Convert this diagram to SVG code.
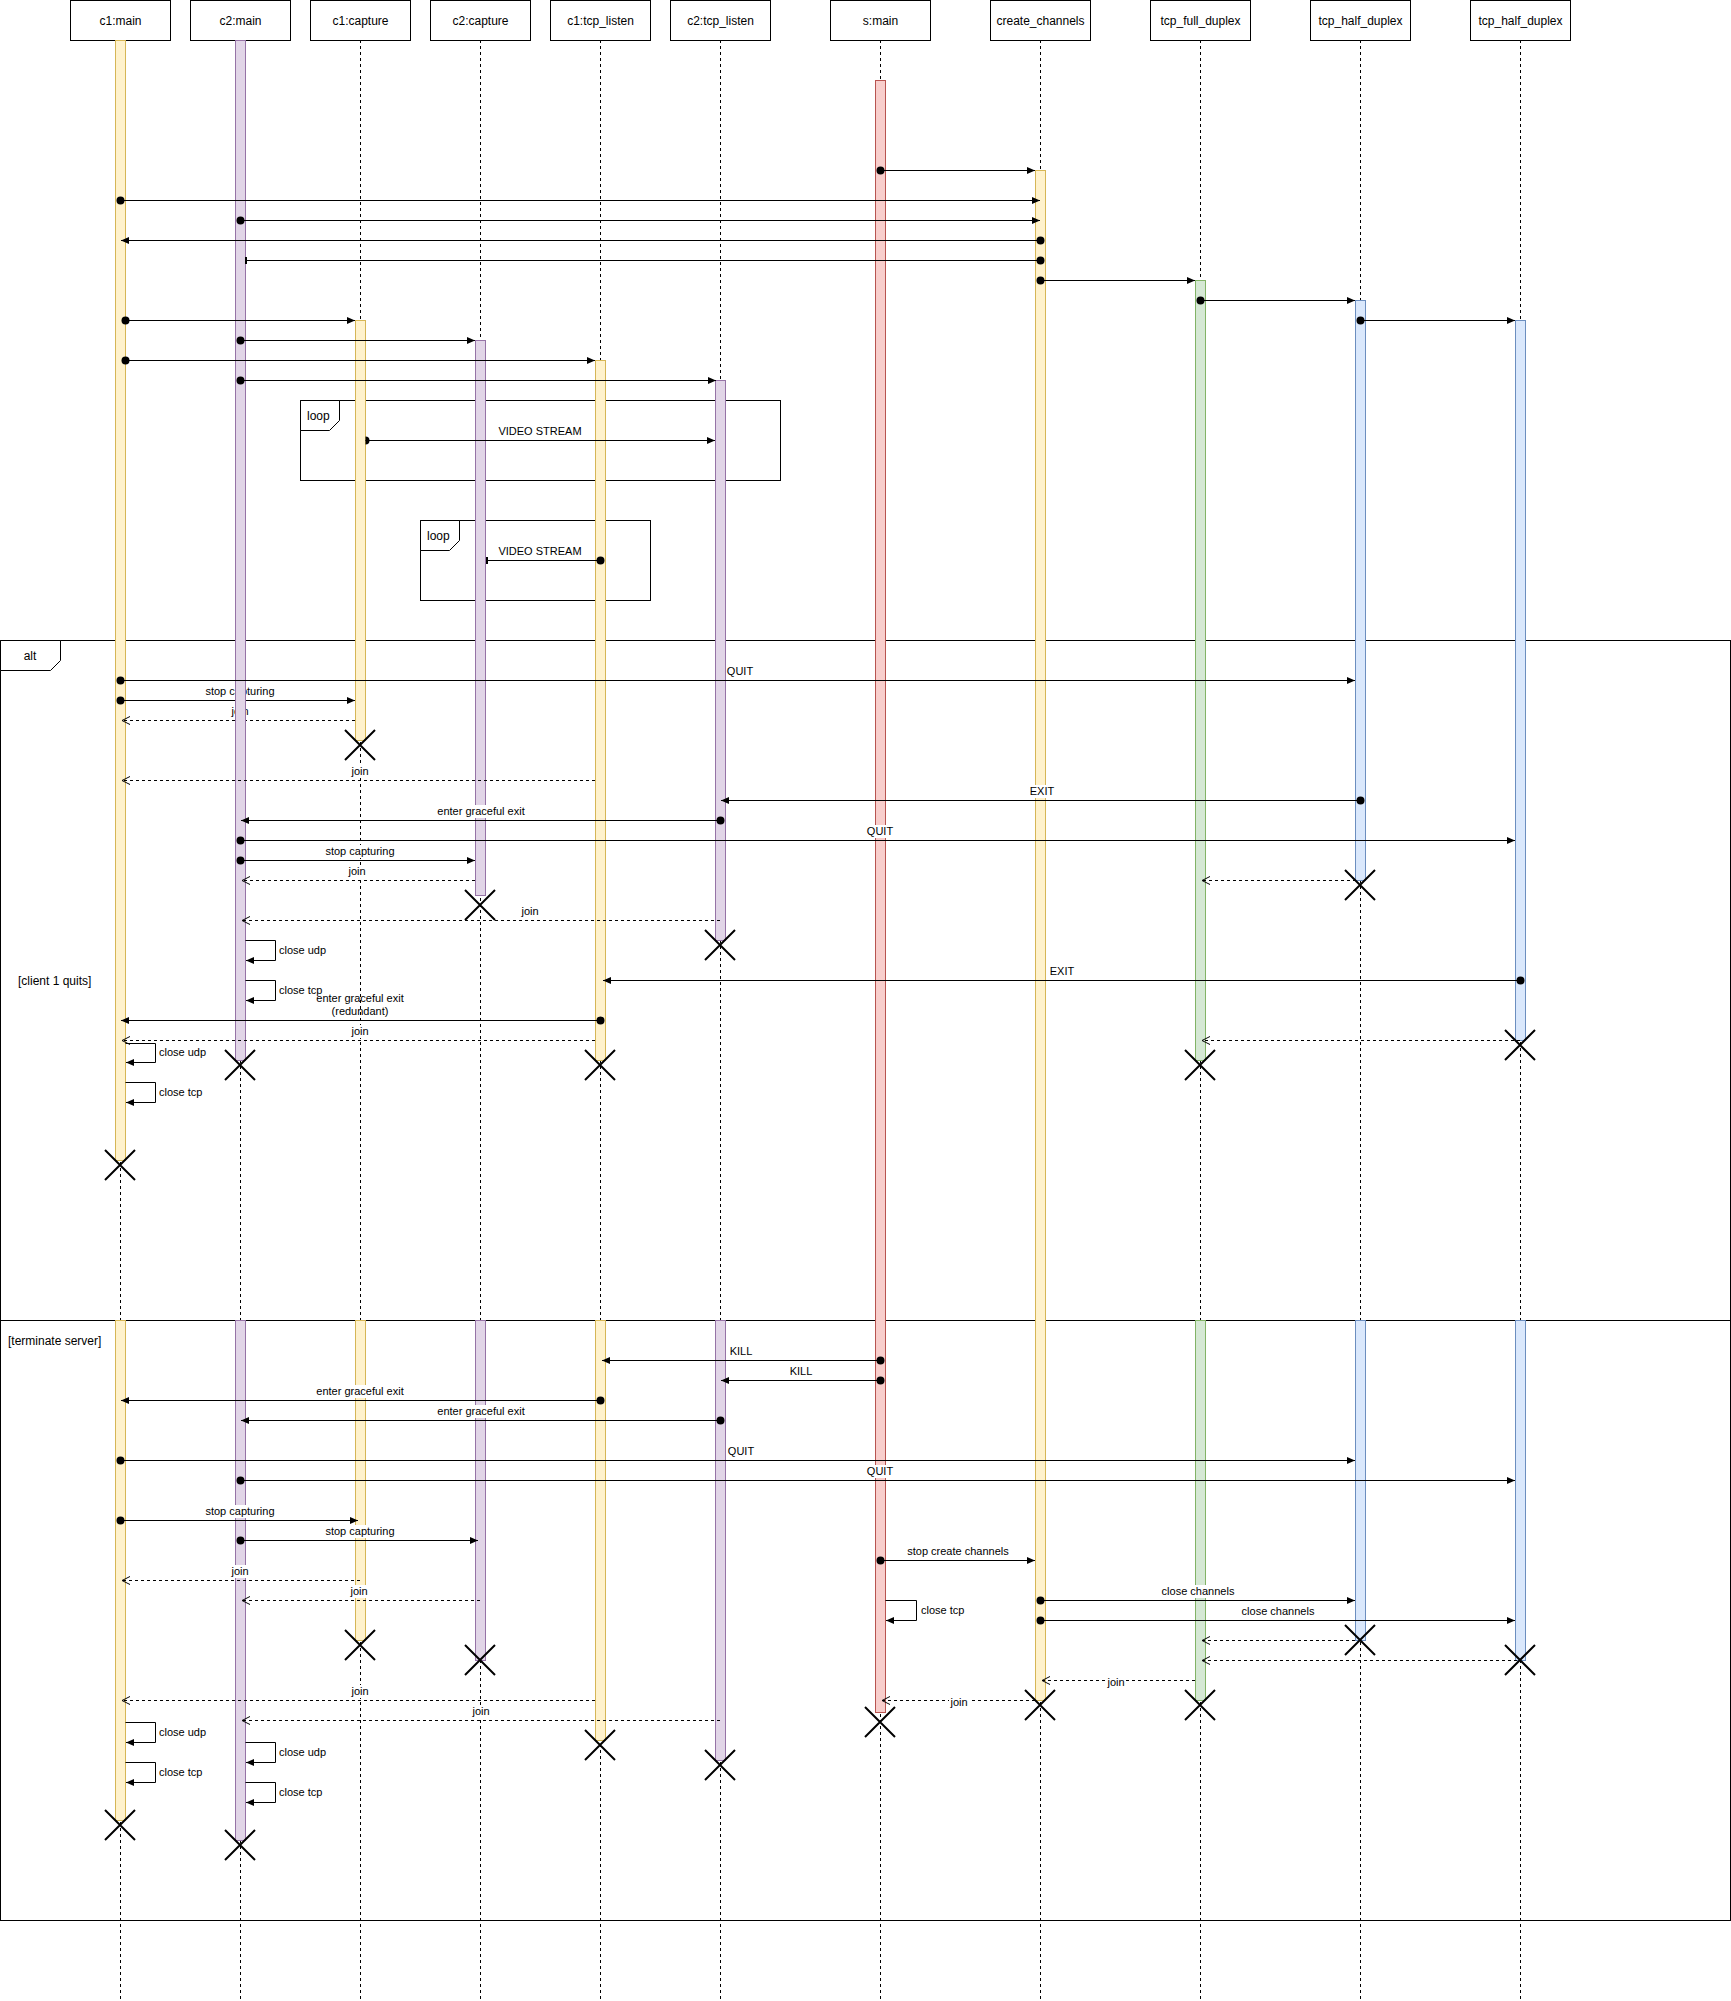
<svg xmlns="http://www.w3.org/2000/svg" width="1731" height="2001" viewBox="0 0 1731 2001">
<style>
  .hd { fill:#fff; stroke:#000; stroke-width:1; }
  .ht { font-family:"Liberation Sans", Arial, Helvetica, sans-serif; font-size:12px; text-anchor:middle; fill:#000; }
  .ll { stroke:#000; stroke-width:1; stroke-dasharray:3 3; fill:none; }
  .y { fill:#fff2cc; stroke:#d6b656; }
  .p { fill:#e1d5e7; stroke:#9673a6; }
  .r { fill:#f8cecc; stroke:#b85450; }
  .g { fill:#d5e8d4; stroke:#82b366; }
  .b { fill:#dae8fc; stroke:#6c8ebf; }
  .x { stroke:#000; stroke-width:2; fill:none; }
  .m { stroke:#000; stroke-width:1; fill:none; }
  .ms { marker-start:url(#dot); }
  .me { marker-end:url(#arr); }
  .mt { marker-end:url(#tick); }
  .rt { stroke-dasharray:3 3; marker-end:url(#open); }
  .lbl { font-family:"Liberation Sans", Arial, Helvetica, sans-serif; font-size:11px; text-anchor:middle; fill:#000; }
  .lft { text-anchor:start; }
  .lb { fill:#fff; stroke:none; }
  .fr { fill:none; stroke:#000; stroke-width:1; }
  .tab { fill:#fff; stroke:#000; stroke-width:1; }
  .ft { font-family:"Liberation Sans", Arial, Helvetica, sans-serif; font-size:12px; fill:#000; }
</style>
<defs>
  <marker id="dot" markerUnits="userSpaceOnUse" markerWidth="10" markerHeight="10" refX="5" refY="5" overflow="visible"><circle cx="5" cy="5" r="4" fill="#000"/></marker>
  <marker id="arr" markerUnits="userSpaceOnUse" markerWidth="8" markerHeight="8" refX="8" refY="4" orient="auto" overflow="visible"><path d="M0,0.5 L8,4 L0,7.5 Z" fill="#000"/></marker>
  <marker id="open" markerUnits="userSpaceOnUse" markerWidth="9" markerHeight="9" refX="8" refY="4.5" orient="auto" overflow="visible"><path d="M0,0.5 L8,4.5 L0,8.5" fill="none" stroke="#000" stroke-width="1" stroke-dasharray="none"/></marker>
  <marker id="tick" markerUnits="userSpaceOnUse" markerWidth="4" markerHeight="8" refX="2" refY="4" orient="auto" overflow="visible"><path d="M2,0.5V7.5" stroke="#000" stroke-width="2"/></marker>
</defs>
<rect width="1731" height="2001" fill="#fff"/>

<!-- combined fragments -->
<g id="frames">
  <g id="alt">
    <rect class="fr" x="0.5" y="640.5" width="1730" height="1280"/>
    <path class="tab" d="M0.5,640.5H60.5V660.5L50.5,670.5H0.5Z"/>
    <text class="ft" x="30" y="660" text-anchor="middle">alt</text>
    <text class="ft" x="18" y="985">[client 1 quits]</text>
    <path class="fr" d="M0.5,1320.5H1730.5"/>
    <text class="ft" x="8" y="1345">[terminate server]</text>
  </g>
  <g id="loop1">
    <rect class="fr" x="300.5" y="400.5" width="480" height="80"/>
    <path class="tab" d="M300.5,400.5H339.5V420.5L329.5,430.5H300.5Z"/>
    <text class="ft" x="307" y="420">loop</text>
  </g>
  <g id="loop2">
    <rect class="fr" x="420.5" y="520.5" width="230" height="80"/>
    <path class="tab" d="M420.5,520.5H459.5V540.5L449.5,550.5H420.5Z"/>
    <text class="ft" x="427" y="540">loop</text>
  </g>
</g>

<!-- participants: header, lifeline, activations, destruction -->
<g id="c1-main">
  <path class="ll" d="M120.5,40V2001"/>
  <rect class="hd" x="70.5" y="0.5" width="100" height="40"/>
  <text class="ht" x="120.5" y="25">c1:main</text>
  <rect class="y" x="115.5" y="40.5" width="10" height="1120"/>
  <rect class="y" x="115.5" y="1320.5" width="10" height="500"/>
  <path class="x" d="M105,1150L135,1180M135,1150L105,1180"/>
  <path class="x" d="M105,1810L135,1840M135,1810L105,1840"/>
</g>
<g id="c2-main">
  <path class="ll" d="M240.5,40V2001"/>
  <rect class="hd" x="190.5" y="0.5" width="100" height="40"/>
  <text class="ht" x="240.5" y="25">c2:main</text>
  <rect class="p" x="235.5" y="40.5" width="10" height="1020"/>
  <rect class="p" x="235.5" y="1320.5" width="10" height="520"/>
  <path class="x" d="M225,1050L255,1080M255,1050L225,1080"/>
  <path class="x" d="M225,1830L255,1860M255,1830L225,1860"/>
</g>
<g id="c1-capture">
  <path class="ll" d="M360.5,40V2001"/>
  <rect class="hd" x="310.5" y="0.5" width="100" height="40"/>
  <text class="ht" x="360.5" y="25">c1:capture</text>
  <rect class="y" x="355.5" y="320.5" width="10" height="420"/>
  <rect class="y" x="355.5" y="1320.5" width="10" height="320"/>
  <path class="x" d="M345,730L375,760M375,730L345,760"/>
  <path class="x" d="M345,1630L375,1660M375,1630L345,1660"/>
</g>
<g id="c2-capture">
  <path class="ll" d="M480.5,40V2001"/>
  <rect class="hd" x="430.5" y="0.5" width="100" height="40"/>
  <text class="ht" x="480.5" y="25">c2:capture</text>
  <rect class="p" x="475.5" y="340.5" width="10" height="555"/>
  <rect class="p" x="475.5" y="1320.5" width="10" height="340"/>
  <path class="x" d="M465,890L495,920M495,890L465,920"/>
  <path class="x" d="M465,1645L495,1675M495,1645L465,1675"/>
</g>
<g id="c1-tcp-listen">
  <path class="ll" d="M600.5,40V2001"/>
  <rect class="hd" x="550.5" y="0.5" width="100" height="40"/>
  <text class="ht" x="600.5" y="25">c1:tcp_listen</text>
  <rect class="y" x="595.5" y="360.5" width="10" height="700"/>
  <rect class="y" x="595.5" y="1320.5" width="10" height="420"/>
  <path class="x" d="M585,1050L615,1080M615,1050L585,1080"/>
  <path class="x" d="M585,1730L615,1760M615,1730L585,1760"/>
</g>
<g id="c2-tcp-listen">
  <path class="ll" d="M720.5,40V2001"/>
  <rect class="hd" x="670.5" y="0.5" width="100" height="40"/>
  <text class="ht" x="720.5" y="25">c2:tcp_listen</text>
  <rect class="p" x="715.5" y="380.5" width="10" height="560"/>
  <rect class="p" x="715.5" y="1320.5" width="10" height="440"/>
  <path class="x" d="M705,930L735,960M735,930L705,960"/>
  <path class="x" d="M705,1750L735,1780M735,1750L705,1780"/>
</g>
<g id="s-main">
  <path class="ll" d="M880.5,40V2001"/>
  <rect class="hd" x="830.5" y="0.5" width="100" height="40"/>
  <text class="ht" x="880.5" y="25">s:main</text>
  <rect class="r" x="875.5" y="80.5" width="10" height="1632"/>
  <path class="x" d="M865,1707L895,1737M895,1707L865,1737"/>
</g>
<g id="create-channels">
  <path class="ll" d="M1040.5,40V2001"/>
  <rect class="hd" x="990.5" y="0.5" width="100" height="40"/>
  <text class="ht" x="1040.5" y="25">create_channels</text>
  <rect class="y" x="1035.5" y="170.5" width="10" height="1530"/>
  <path class="x" d="M1025,1690L1055,1720M1055,1690L1025,1720"/>
</g>
<g id="tcp-full-duplex">
  <path class="ll" d="M1200.5,40V2001"/>
  <rect class="hd" x="1150.5" y="0.5" width="100" height="40"/>
  <text class="ht" x="1200.5" y="25">tcp_full_duplex</text>
  <rect class="g" x="1195.5" y="280.5" width="10" height="780"/>
  <rect class="g" x="1195.5" y="1320.5" width="10" height="380"/>
  <path class="x" d="M1185,1050L1215,1080M1215,1050L1185,1080"/>
  <path class="x" d="M1185,1690L1215,1720M1215,1690L1185,1720"/>
</g>
<g id="tcp-half-duplex-1">
  <path class="ll" d="M1360.5,40V2001"/>
  <rect class="hd" x="1310.5" y="0.5" width="100" height="40"/>
  <text class="ht" x="1360.5" y="25">tcp_half_duplex</text>
  <rect class="b" x="1355.5" y="300.5" width="10" height="580"/>
  <rect class="b" x="1355.5" y="1320.5" width="10" height="320"/>
  <path class="x" d="M1345,870L1375,900M1375,870L1345,900"/>
  <path class="x" d="M1345,1625L1375,1655M1375,1625L1345,1655"/>
</g>
<g id="tcp-half-duplex-2">
  <path class="ll" d="M1520.5,40V2001"/>
  <rect class="hd" x="1470.5" y="0.5" width="100" height="40"/>
  <text class="ht" x="1520.5" y="25">tcp_half_duplex</text>
  <rect class="b" x="1515.5" y="320.5" width="10" height="720"/>
  <rect class="b" x="1515.5" y="1320.5" width="10" height="340"/>
  <path class="x" d="M1505,1030L1535,1060M1535,1030L1505,1060"/>
  <path class="x" d="M1505,1645L1535,1675M1535,1645L1505,1675"/>
</g>

<!-- messages -->
<g id="connectors">
  <!-- start-up -->
  <path class="m ms me" d="M880.5,170.5H1035"/>
  <path class="m ms me" d="M120.5,200.5H1040"/>
  <path class="m ms me" d="M240.5,220.5H1040"/>
  <path class="m ms me" d="M1040.5,240.5H121"/>
  <path class="m ms mt" d="M1040.5,260.5H246"/>
  <path class="m ms me" d="M1040.5,280.5H1195"/>
  <path class="m ms me" d="M1200.5,300.5H1355"/>
  <path class="m ms me" d="M1360.5,320.5H1515"/>
  <path class="m ms me" d="M125.5,320.5H355"/>
  <path class="m ms me" d="M240.5,340.5H475"/>
  <path class="m ms me" d="M125.5,360.5H595"/>
  <path class="m ms me" d="M240.5,380.5H716"/>

  <!-- loops -->
  <path class="m me" d="M365.5,440.5H715"/>
  <path d="M365.5,436.5A4,4 0 0 1 365.5,444.5Z" fill="#000"/>
  <text class="lbl" x="540" y="435">VIDEO STREAM</text>
  <path class="m ms mt" d="M600.5,560.5H487"/>
  <text class="lbl" x="540" y="555">VIDEO STREAM</text>

  <!-- client 1 quits -->
  <path class="m ms me" d="M120.5,680.5H1355"/>
  <rect class="lb" x="726" y="665" width="28" height="13"/>
  <text class="lbl" x="740" y="675">QUIT</text>

  <path class="m ms me" d="M120.5,700.5H355"/>
  <rect class="lb" x="204" y="685" width="72" height="13"/>
  <text class="lbl" x="240" y="695">stop capturing</text>

  <path class="m rt" d="M355,720.5H122"/>
  <rect class="lb" x="230" y="705" width="20" height="13"/>
  <text class="lbl" x="240" y="715">join</text>

  <path class="m rt" d="M595,780.5H122"/>
  <rect class="lb" x="350" y="765" width="20" height="13"/>
  <text class="lbl" x="360" y="775">join</text>

  <path class="m ms me" d="M1360.5,800.5H721"/>
  <rect class="lb" x="1029" y="785" width="26" height="13"/>
  <text class="lbl" x="1042" y="795">EXIT</text>

  <path class="m ms me" d="M720.5,820.5H241"/>
  <rect class="lb" x="433" y="805" width="96" height="13"/>
  <text class="lbl" x="481" y="815">enter graceful exit</text>

  <path class="m ms me" d="M240.5,840.5H1515"/>
  <rect class="lb" x="866" y="825" width="28" height="13"/>
  <text class="lbl" x="880" y="835">QUIT</text>

  <path class="m ms me" d="M240.5,860.5H475"/>
  <rect class="lb" x="324" y="845" width="72" height="13"/>
  <text class="lbl" x="360" y="855">stop capturing</text>

  <path class="m rt" d="M475,880.5H242"/>
  <rect class="lb" x="347" y="865" width="20" height="13"/>
  <text class="lbl" x="357" y="875">join</text>

  <path class="m rt" d="M1356,880.5H1202"/>

  <path class="m rt" d="M720,920.5H242"/>
  <rect class="lb" x="520" y="905" width="20" height="13"/>
  <text class="lbl" x="530" y="915">join</text>

  <path class="m me" d="M245.5,940.5H275.5V960.5H246"/>
  <text class="lbl lft" x="279" y="954">close udp</text>
  <path class="m me" d="M245.5,980.5H275.5V1000.5H246"/>
  <text class="lbl lft" x="279" y="994">close tcp</text>

  <path class="m ms me" d="M1520.5,980.5H603"/>
  <rect class="lb" x="1049" y="965" width="26" height="13"/>
  <text class="lbl" x="1062" y="975">EXIT</text>

  <path class="m ms me" d="M600.5,1020.5H121"/>
  <text class="lbl" x="360" y="1002">enter graceful exit</text>
  <text class="lbl" x="360" y="1015">(redundant)</text>

  <path class="m rt" d="M595,1040.5H122"/>
  <rect class="lb" x="350" y="1025" width="20" height="13"/>
  <text class="lbl" x="360" y="1035">join</text>

  <path class="m rt" d="M1520,1040.5H1202"/>

  <path class="m me" d="M125.5,1043.5H155.5V1062.5H126"/>
  <text class="lbl lft" x="159" y="1056">close udp</text>
  <path class="m me" d="M125.5,1082.5H155.5V1102.5H126"/>
  <text class="lbl lft" x="159" y="1096">close tcp</text>

  <!-- terminate server -->
  <path class="m ms me" d="M880.5,1360.5H602"/>
  <rect class="lb" x="729" y="1345" width="25" height="13"/>
  <text class="lbl" x="741" y="1355">KILL</text>

  <path class="m ms me" d="M880.5,1380.5H721"/>
  <rect class="lb" x="789" y="1365" width="25" height="13"/>
  <text class="lbl" x="801" y="1375">KILL</text>

  <path class="m ms me" d="M600.5,1400.5H121"/>
  <rect class="lb" x="312" y="1385" width="96" height="13"/>
  <text class="lbl" x="360" y="1395">enter graceful exit</text>

  <path class="m ms me" d="M720.5,1420.5H241"/>
  <rect class="lb" x="433" y="1405" width="96" height="13"/>
  <text class="lbl" x="481" y="1415">enter graceful exit</text>

  <path class="m ms me" d="M120.5,1460.5H1355"/>
  <rect class="lb" x="727" y="1445" width="28" height="13"/>
  <text class="lbl" x="741" y="1455">QUIT</text>

  <path class="m ms me" d="M240.5,1480.5H1515"/>
  <rect class="lb" x="866" y="1465" width="28" height="13"/>
  <text class="lbl" x="880" y="1475">QUIT</text>

  <path class="m ms me" d="M120.5,1520.5H358"/>
  <rect class="lb" x="204" y="1505" width="72" height="13"/>
  <text class="lbl" x="240" y="1515">stop capturing</text>

  <path class="m ms me" d="M240.5,1540.5H478"/>
  <rect class="lb" x="324" y="1525" width="72" height="13"/>
  <text class="lbl" x="360" y="1535">stop capturing</text>

  <path class="m ms me" d="M880.5,1560.5H1035"/>
  <rect class="lb" x="905" y="1545" width="106" height="13"/>
  <text class="lbl" x="958" y="1555">stop create channels</text>

  <path class="m rt" d="M360,1580.5H122"/>
  <rect class="lb" x="230" y="1565" width="20" height="13"/>
  <text class="lbl" x="240" y="1575">join</text>

  <path class="m rt" d="M480,1600.5H242"/>
  <rect class="lb" x="349" y="1585" width="20" height="13"/>
  <text class="lbl" x="359" y="1595">join</text>

  <path class="m ms me" d="M1040.5,1600.5H1355"/>
  <rect class="lb" x="1160" y="1585" width="76" height="13"/>
  <text class="lbl" x="1198" y="1595">close channels</text>

  <path class="m me" d="M885.5,1600.5H916.5V1620.5H886"/>
  <text class="lbl lft" x="921" y="1614">close tcp</text>

  <path class="m ms me" d="M1040.5,1620.5H1515"/>
  <rect class="lb" x="1240" y="1605" width="76" height="13"/>
  <text class="lbl" x="1278" y="1615">close channels</text>

  <path class="m rt" d="M1355,1640.5H1202"/>
  <path class="m rt" d="M1517,1660.5H1202"/>

  <path class="m rt" d="M1195,1680.5H1042"/>
  <rect class="lb" x="1106" y="1675" width="20" height="13"/>
  <text class="lbl" x="1116" y="1686">join</text>

  <path class="m rt" d="M1035,1700.5H882"/>
  <rect class="lb" x="949" y="1695" width="20" height="13"/>
  <text class="lbl" x="959" y="1706">join</text>

  <path class="m rt" d="M595,1700.5H122"/>
  <rect class="lb" x="350" y="1685" width="20" height="13"/>
  <text class="lbl" x="360" y="1695">join</text>

  <path class="m rt" d="M720,1720.5H242"/>
  <rect class="lb" x="471" y="1705" width="20" height="13"/>
  <text class="lbl" x="481" y="1715">join</text>

  <path class="m me" d="M125.5,1722.5H155.5V1742.5H126"/>
  <text class="lbl lft" x="159" y="1736">close udp</text>
  <path class="m me" d="M125.5,1762.5H155.5V1782.5H126"/>
  <text class="lbl lft" x="159" y="1776">close tcp</text>
  <path class="m me" d="M245.5,1742.5H275.5V1762.5H246"/>
  <text class="lbl lft" x="279" y="1756">close udp</text>
  <path class="m me" d="M245.5,1782.5H275.5V1802.5H246"/>
  <text class="lbl lft" x="279" y="1796">close tcp</text>
</g>

<!-- part of the c2:main activation that sits in front of the c1 messages -->
<g id="c2-main-front">
  <rect x="235.5" y="684" width="10" height="42" fill="#e1d5e7"/>
  <path d="M235.5,684V726M245.5,684V726" stroke="#9673a6" fill="none"/>
</g>
</svg>
